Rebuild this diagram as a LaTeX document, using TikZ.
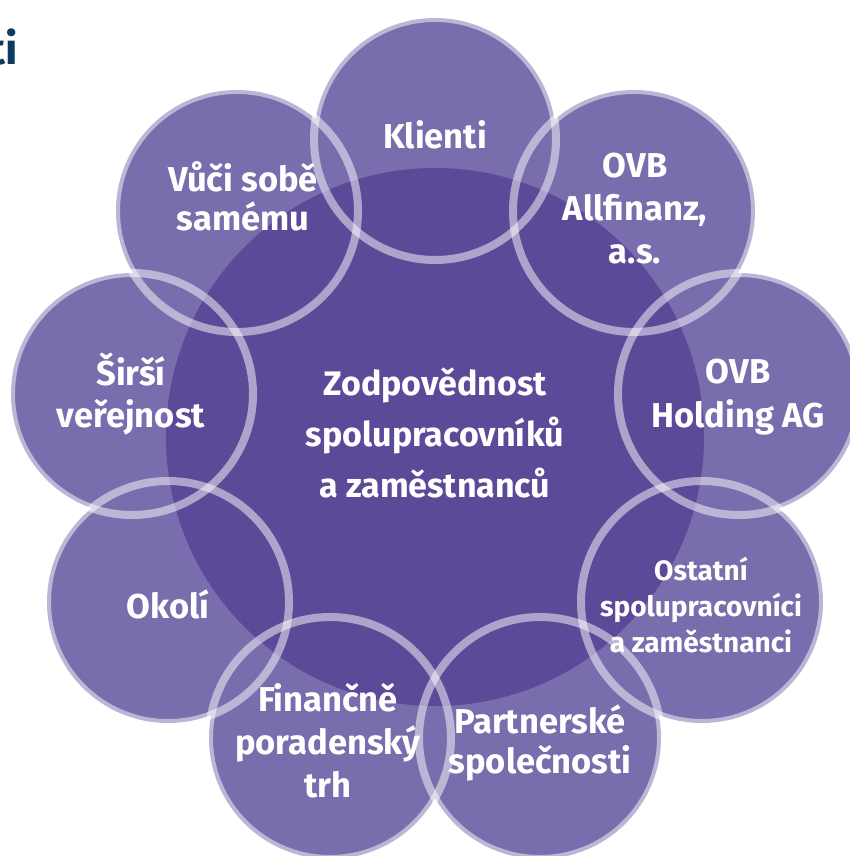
\documentclass[tikz,border=0pt]{standalone}
\usepackage{fontspec}
\setmainfont{Fira Sans}
\definecolor{outerfill}{HTML}{7A6DAD}
\definecolor{bigfill}{HTML}{5C4A99}
\definecolor{navy}{HTML}{0D3A5F}
\begin{document}
\begin{tikzpicture}[x=1pt,y=-1pt,
  disc/.style={circle,fill=outerfill,minimum size=242pt,inner sep=0pt},
  ringc/.style={circle,draw=white,draw opacity=0.5,line width=8pt,minimum size=242pt,inner sep=0pt},
  lbl/.style={text=white,font=\bfseries\fontsize{34.5}{44}\selectfont,align=center,anchor=base,inner sep=0pt}]
\useasboundingbox (0,0) rectangle (849,856);
\fill[white] (0,0) rectangle (849,856);
% outer discs
\node[disc] (klienti) at (435,139) {};
\node[disc] (allfin) at (634,211) {};
\node[disc] (holding) at (739,394) {};
\node[disc] (ostatni) at (702,602) {};
\node[disc] (partner) at (540,738) {};
\node[disc] (financ) at (330,738) {};
\node[disc] (okoli) at (168,602) {};
\node[disc] (sirsi) at (132,394) {};
\node[disc] (vuci) at (237,211) {};
% central disc
\node[circle,fill=bigfill,minimum size=538pt,inner sep=0pt] (big) at (435,437) {};
% rings
\node[ringc] (klientiR) at (klienti) {};
\node[ringc] (allfinR) at (allfin) {};
\node[ringc] (holdingR) at (holding) {};
\node[ringc] (ostatniR) at (ostatni) {};
\node[ringc] (partnerR) at (partner) {};
\node[ringc] (financR) at (financ) {};
\node[ringc] (okoliR) at (okoli) {};
\node[ringc] (sirsiR) at (sirsi) {};
\node[ringc] (vuciR) at (vuci) {};
% labels (anchor = baseline of last line)
\node[lbl] (tKlienti) at (435,148) {Klienti};
\node[lbl,font=\bfseries\fontsize{34.5}{39}\selectfont] (tVuci) at (243,230) {Vůči sobě\\samému};
\node[lbl,font=\bfseries\fontsize{34.5}{43}\selectfont] (tAllfin) at (635,263) {OVB\\Allfinanz,\\a.s.};
\node[lbl,font=\bfseries\fontsize{34.5}{42}\selectfont] (tSirsi) at (131,427) {Širší\\veřejnost};
\node[lbl,font=\bfseries\fontsize{34.5}{44}\selectfont] (tHolding) at (738,427) {OVB\\Holding AG};
\node[lbl,font=\bfseries\fontsize{34}{51}\selectfont] (tBig) at (435,497) {Zodpovědnost\\spolupracovníků\\a zaměstnanců};
\node[lbl] (tOkoli) at (168,618) {Okolí};
\node[lbl,font=\bfseries\fontsize{28}{36}\selectfont] (tOstatni) at (701,652) {Ostatní\\spolupracovníci\\a zaměstnanci};
\node[lbl,font=\bfseries\fontsize{34.5}{43}\selectfont] (tFinanc) at (328,797) {Finančně\\poradenský\\trh};
\node[lbl,font=\bfseries\fontsize{34.5}{40}\selectfont] (tPartner) at (540,773) {Partnerské\\společnosti};
% heading fragment
\node[anchor=base east,inner sep=0pt,text=navy,font=\bfseries\fontsize{44}{44}\selectfont] (head) at (18,65) {ti};
\end{tikzpicture}
\end{document}
